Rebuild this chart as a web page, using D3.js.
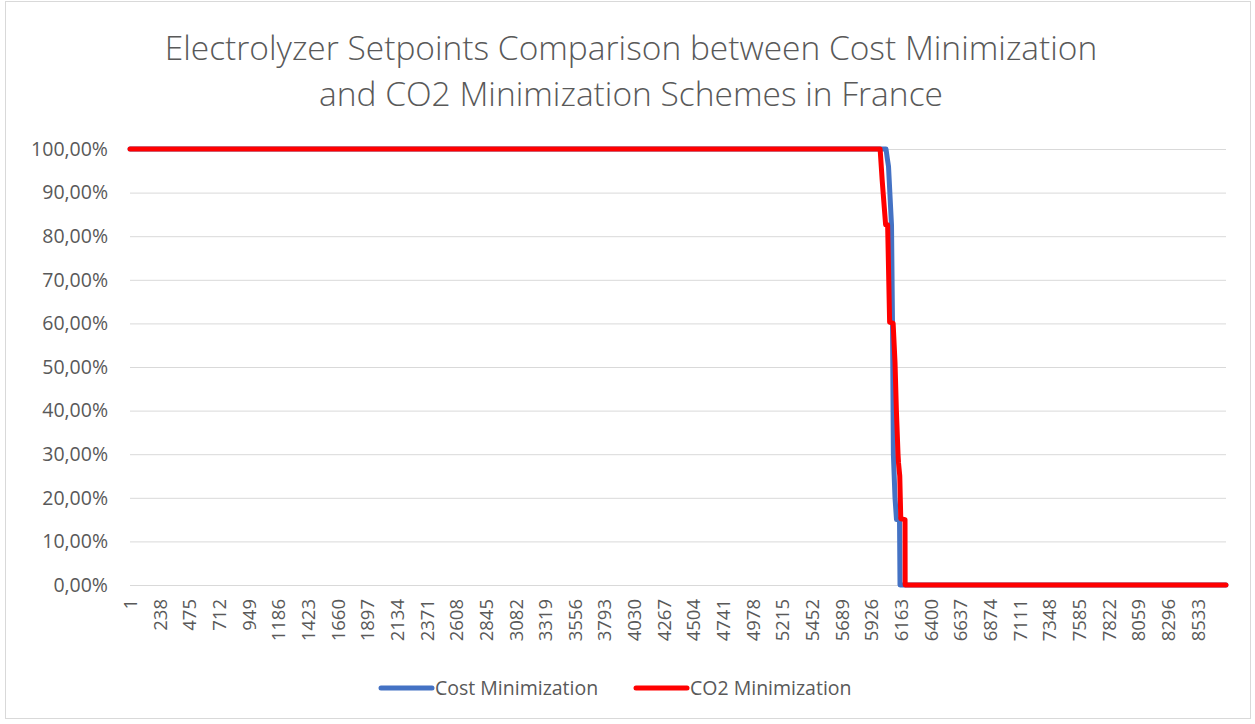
<!DOCTYPE html>
<html lang="en">
<head>
<meta charset="UTF-8">
<title>Electrolyzer Setpoints Comparison</title>
<script src="https://cdn.jsdelivr.net/npm/d3@7/dist/d3.min.js"></script>
<style>
  body { margin: 0; background: #fff; }
  svg { display: block; font-family: "Open Sans", "Noto Sans", sans-serif; }
</style>
</head>
<body>
<svg id="chart" width="1255" height="724"></svg>
<script>
// hours 1..8760, only breakpoints of each series are listed
const hourCount = 8760;

const costHours  = [1, 6043, 6055, 6063, 6087, 6095, 6102, 6115, 6127, 6151, 6155, 8760];
const costValues = [1, 1, 0.975, 0.96, 0.825, 0.60, 0.30, 0.20, 0.15, 0.15, 0, 0];

const co2Hours  = [1, 5996, 6012, 6020, 6040, 6056, 6072, 6100, 6115, 6126, 6139, 6143, 6153, 6161, 6195, 6196, 8760];
const co2Values = [1, 1, 0.93, 0.90, 0.826, 0.826, 0.603, 0.60, 0.51, 0.40, 0.30, 0.28, 0.25, 0.152, 0.15, 0, 0];

const xTickLabels = [1, 238, 475, 712, 949, 1186, 1423, 1660, 1897, 2134, 2371, 2608, 2845, 3082,
  3319, 3556, 3793, 4030, 4267, 4504, 4741, 4978, 5215, 5452, 5689, 5926, 6163, 6400, 6637,
  6874, 7111, 7348, 7585, 7822, 8059, 8296, 8533];
const yTicks = [0, 0.1, 0.2, 0.3, 0.4, 0.5, 0.6, 0.7, 0.8, 0.9, 1];

const seriesNames = ['Cost Minimization', 'CO2 Minimization'];
const seriesColors = ['#4472C4', '#FF0000'];

const svg = d3.select('#chart');
const plotLeft = 130, plotRight = 1226, plotTop = 149, plotBottom = 585;
const textColor = '#595959';
const gridColor = '#D9D9D9';

// outer chart border
svg.append('rect')
  .attr('x', 5.5).attr('y', 1.5)
  .attr('width', 1245).attr('height', 717)
  .attr('fill', '#fff')
  .attr('stroke', gridColor);

const xScale = d3.scaleLinear().domain([0.5, hourCount + 0.5]).range([plotLeft, plotRight]);
const yScale = d3.scaleLinear().domain([0, 1]).range([plotBottom, plotTop]);

const locale = d3.formatLocale({ decimal: ',', thousands: '.', grouping: [3], currency: ['', '€'] });
const pct = locale.format('.2%');

// title
const title = svg.append('text')
  .attr('text-anchor', 'middle')
  .attr('fill', textColor)
  .style('font-size', '33.5px')
  .style('font-weight', 300);
title.append('tspan').attr('x', 631).attr('y', 60)
  .text('Electrolyzer Setpoints Comparison between Cost Minimization');
title.append('tspan').attr('x', 631).attr('y', 106)
  .text('and CO2 Minimization Schemes in France');

// y gridlines + labels
const yAxis = d3.axisLeft(yScale)
  .tickValues(yTicks)
  .tickSize(-(plotRight - plotLeft))
  .tickPadding(22)
  .tickFormat(pct);

svg.append('g')
  .attr('transform', `translate(${plotLeft},0)`)
  .call(yAxis)
  .call(g => g.select('.domain').remove())
  .call(g => g.selectAll('.tick line').attr('stroke', gridColor))
  .call(g => g.selectAll('.tick text')
    .attr('fill', textColor)
    .style('font-size', '19.5px')
    .style('font-family', '"Open Sans", sans-serif'));

// x axis labels (rotated)
const xAxis = d3.axisBottom(xScale)
  .tickValues(xTickLabels)
  .tickSize(0)
  .tickFormat(d => d);

svg.append('g')
  .attr('transform', `translate(0,${plotBottom})`)
  .call(xAxis)
  .call(g => g.select('.domain').remove())
  .call(g => g.selectAll('.tick text')
    .attr('fill', textColor)
    .attr('transform', 'rotate(-90)')
    .attr('text-anchor', 'end')
    .attr('x', -14)
    .attr('y', 0)
    .attr('dy', '0.35em')
    .style('font-size', '18.5px')
    .style('font-family', '"Open Sans", sans-serif'));

// series lines
const line = d3.line()
  .x(d => xScale(d[0]))
  .y(d => yScale(d[1]));

const series = [
  d3.zip(costHours, costValues),
  d3.zip(co2Hours, co2Values)
];

series.forEach((pts, i) => {
  svg.append('path')
    .datum(pts)
    .attr('fill', 'none')
    .attr('stroke', seriesColors[i])
    .attr('stroke-width', 5)
    .attr('stroke-linejoin', 'round')
    .attr('stroke-linecap', 'round')
    .attr('d', line);
});

// legend
const legendX = [381, 636];
seriesNames.forEach((name, i) => {
  const g = svg.append('g').attr('transform', `translate(${legendX[i]},688)`);
  g.append('line')
    .attr('x1', 0).attr('x2', 51)
    .attr('stroke', seriesColors[i])
    .attr('stroke-width', 5)
    .attr('stroke-linecap', 'round');
  g.append('text')
    .attr('x', 54)
    .attr('dy', '0.35em')
    .attr('fill', textColor)
    .style('font-size', '19.5px')
    .text(name);
});
</script>
</body>
</html>
